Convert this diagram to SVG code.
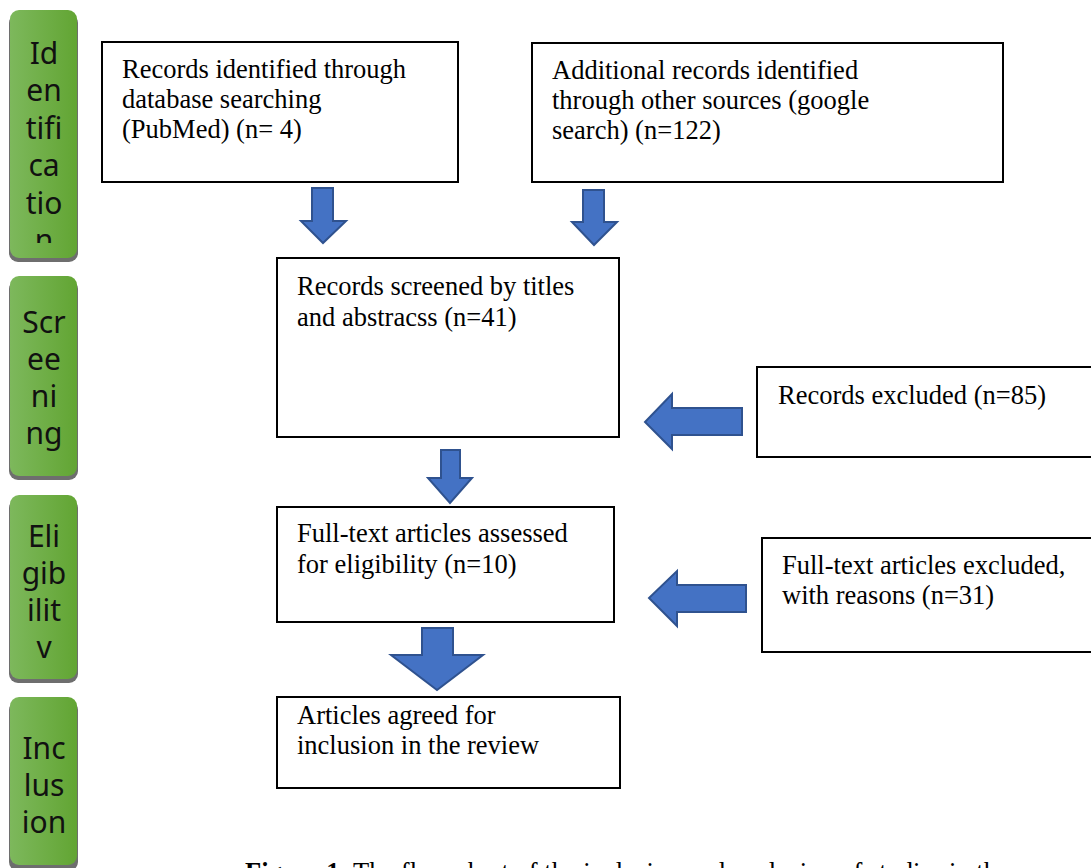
<svg xmlns="http://www.w3.org/2000/svg" width="1091" height="868" viewBox="0 0 1091 868">
<style>
.bar{fill:url(#gb);}
.sh{fill:#6e6e6e;}
.bt{font-family:"Noto Sans","Open Sans","DejaVu Sans",sans-serif;font-size:30px;fill:#111;text-anchor:middle;}
.box{fill:#fff;stroke:#000;stroke-width:2;}
.tx{font-family:"Liberation Serif","Times New Roman",serif;font-size:26.5px;fill:#000;}
.ar{fill:#4472C4;stroke:#2F528F;stroke-width:2;stroke-linejoin:miter;}
</style>
<defs>
<linearGradient id="gb" x1="0" y1="0" x2="1" y2="0">
<stop offset="0" stop-color="#7db85c"/>
<stop offset="1" stop-color="#62a533"/>
</linearGradient>
<clipPath id="c1"><rect x="10" y="10" width="67" height="233"/></clipPath>
</defs>
<rect width="1091" height="868" fill="#fff"/>

<g id="stage-identification">
<rect class="sh" x="9" y="14" width="69" height="248" rx="9"/>
<rect class="bar" x="10" y="10" width="67" height="248" rx="9"/>
<g clip-path="url(#c1)">
<text class="bt" x="44" y="64">Id</text>
<text class="bt" x="44" y="101">en</text>
<text class="bt" x="44" y="139">tifi</text>
<text class="bt" x="44" y="176">ca</text>
<text class="bt" x="44" y="214">tio</text>
<text class="bt" x="44" y="251">n</text>
</g>
</g>
<g id="stage-screening">
<rect class="sh" x="9" y="280" width="69" height="200" rx="9"/>
<rect class="bar" x="10" y="276" width="67" height="200" rx="9"/>
<text class="bt" x="44" y="333">Scr</text>
<text class="bt" x="44" y="370">ee</text>
<text class="bt" x="44" y="407">ni</text>
<text class="bt" x="44" y="444">ng</text>
</g>
<g id="stage-eligibility">
<rect class="sh" x="9" y="499" width="69" height="184" rx="9"/>
<rect class="bar" x="10" y="495" width="67" height="184" rx="9"/>
<text class="bt" x="44" y="547">Eli</text>
<text class="bt" x="44" y="584">gib</text>
<text class="bt" x="44" y="621">ilit</text>
<text class="bt" x="44" y="658">v</text>
</g>
<g id="stage-inclusion">
<rect class="sh" x="9" y="701" width="69" height="170" rx="9"/>
<rect class="bar" x="10" y="697" width="67" height="168" rx="9"/>
<text class="bt" x="44" y="759">Inc</text>
<text class="bt" x="44" y="796">lus</text>
<text class="bt" x="44" y="833">ion</text>
</g>

<g id="box-database">
<rect class="box" x="102" y="42" width="356" height="140"/>
<text class="tx" x="122" y="78">Records identified through</text>
<text class="tx" x="122" y="108">database searching</text>
<text class="tx" x="122" y="138">(PubMed) (n= 4)</text>
</g>
<g id="box-other">
<rect class="box" x="532" y="43" width="471" height="139"/>
<text class="tx" x="552" y="79">Additional records identified</text>
<text class="tx" x="552" y="109">through other sources (google</text>
<text class="tx" x="552" y="139">search) (n=122)</text>
</g>
<g id="box-screened">
<rect class="box" x="277" y="258" width="342" height="179"/>
<text class="tx" x="297" y="295">Records screened by titles</text>
<text class="tx" x="297" y="326">and abstracss (n=41)</text>
</g>
<g id="box-excluded">
<rect class="box" x="757" y="367" width="340" height="90"/>
<text class="tx" x="778" y="404">Records excluded (n=85)</text>
</g>
<g id="box-fulltext">
<rect class="box" x="277" y="507" width="337" height="115"/>
<text class="tx" x="297" y="542">Full-text articles assessed</text>
<text class="tx" x="297" y="573">for eligibility (n=10)</text>
</g>
<g id="box-fulltext-excluded">
<rect class="box" x="762" y="538" width="335" height="114"/>
<text class="tx" x="782" y="574">Full-text articles excluded,</text>
<text class="tx" x="782" y="604">with reasons (n=31)</text>
</g>
<g id="box-included">
<rect class="box" x="277" y="697" width="343" height="91"/>
<text class="tx" x="297" y="724">Articles agreed for</text>
<text class="tx" x="297" y="754">inclusion in the review</text>
</g>

<g id="connectors">
<polygon class="ar" points="312,188 333,188 333,221 346,221 323,243 301,221 312,221"/>
<polygon class="ar" points="583,190 604,190 604,222 617,222 594,245 572,222 583,222"/>
<polygon class="ar" points="742,408 742,435 672,435 672,449 645,422 672,394 672,408"/>
<polygon class="ar" points="441,450 460,450 460,478 472,478 450,503 428,478 441,478"/>
<polygon class="ar" points="746,585 746,612 677,612 677,626 649,598 677,571 677,585"/>
<polygon class="ar" points="422,628 453,628 453,655 483,655 437,690 391,655 422,655"/>
</g>

<text x="245" y="881" style="font-family:'Liberation Serif','Times New Roman',serif;font-size:26.5px;fill:#000;"><tspan font-weight="bold">Figure 1</tspan>: The flow chart of the inclusion and exclusion of studies in the</text>
</svg>
